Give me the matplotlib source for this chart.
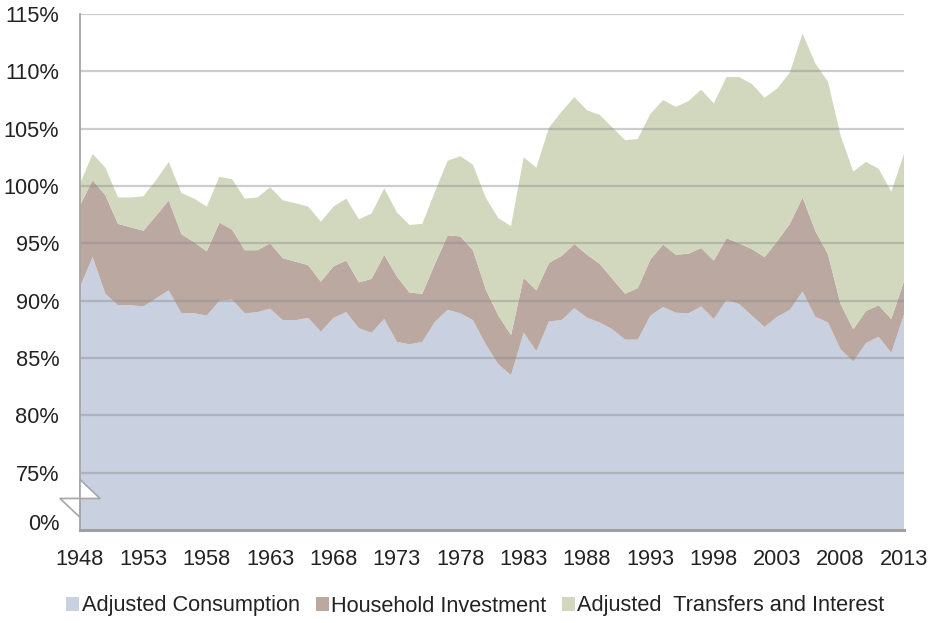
import matplotlib
matplotlib.use("Agg")
import matplotlib.pyplot as plt
from matplotlib.patches import Patch, Polygon
import matplotlib.transforms as mtransforms
import numpy as np

plt.rcParams['font.family'] = ['Liberation Sans', 'DejaVu Sans']

years = list(range(1948, 2014))
consumption = [91.2, 93.8, 90.6, 89.6, 89.6, 89.5, 90.2, 90.9, 88.9, 88.9,
               88.7, 90.0, 90.1, 88.9, 89.0, 89.3, 88.3, 88.3, 88.5, 87.3,
               88.5, 89.0, 87.6, 87.2, 88.4, 86.4, 86.2, 86.4, 88.15, 89.2,
               88.9, 88.3, 86.2, 84.45, 83.5, 87.2, 85.6, 88.2, 88.3, 89.35,
               88.5, 88.1, 87.5, 86.6, 86.6, 88.7, 89.45, 88.95, 88.9, 89.5,
               88.4, 90.05, 89.7, 88.7, 87.7, 88.6, 89.2, 90.8, 88.6, 88.1,
               85.75, 84.7, 86.3, 86.85, 85.45, 88.8]
investment = [7.1, 6.7, 8.6, 7.1, 6.8, 6.6, 7.2, 7.85, 6.9, 6.2,
              5.6, 6.8, 6.1, 5.5, 5.4, 5.7, 5.4, 5.1, 4.6, 4.35,
              4.5, 4.5, 4.0, 4.7, 5.6, 5.7, 4.5, 4.2, 5.05, 6.5,
              6.7, 6.1, 4.8, 4.25, 3.5, 4.8, 5.3, 5.1, 5.6, 5.6,
              5.5, 5.1, 4.4, 4.0, 4.5, 4.9, 5.45, 5.05, 5.2, 5.1,
              5.1, 5.4, 5.3, 5.8, 6.1, 6.6, 7.5, 8.2, 7.5, 5.95,
              3.95, 2.8, 2.8, 2.75, 2.95, 2.9]
transfers = [1.9, 2.3, 2.4, 2.3, 2.6, 3.0, 3.1, 3.35, 3.6, 3.8,
             3.9, 4.0, 4.4, 4.5, 4.6, 4.9, 5.05, 5.1, 5.1, 5.25,
             5.2, 5.4, 5.5, 5.7, 5.8, 5.6, 5.9, 6.1, 6.3, 6.5,
             7.0, 7.45, 8.0, 8.5, 9.5, 10.5, 10.7, 11.8, 12.6, 12.8,
             12.6, 13.0, 13.2, 13.4, 13.0, 12.7, 12.6, 12.9, 13.3, 13.8,
             13.7, 14.05, 14.5, 14.4, 13.9, 13.3, 13.2, 14.3, 14.6, 15.05,
             14.7, 13.75, 13.0, 11.9, 11.1, 11.1]

series_names = ["Adjusted Consumption", "Household Investment",
                "Adjusted  Transfers and Interest"]
colors = ["#C9D0E0", "#BBA8A0", "#D2D8BE"]

ytick_vals = [75, 80, 85, 90, 95, 100, 105, 110, 115]
ytick_labels = ["75%", "80%", "85%", "90%", "95%", "100%", "105%", "110%", "115%"]
xtick_years = list(range(1948, 2014, 5))

fig = plt.figure(figsize=(9.34, 6.23), dpi=100)
ax = fig.add_axes([80/934, 1-530/623, 824/934, 516/623])

ax.stackplot(years, consumption, investment, transfers, colors=colors,
             linewidth=0, zorder=1)

ax.set_xlim(1948, 2013)
ax.set_ylim(70, 115)

for v in ytick_vals:
    ax.axhline(v, color="#8A8A8A", alpha=0.42, linewidth=1.6, zorder=3)

ax.set_yticks([70.72] + ytick_vals)
ax.set_yticklabels(["0%"] + ytick_labels)
ax.set_xticks(xtick_years)
ax.set_xticklabels([str(y) for y in xtick_years])
ax.tick_params(axis='both', length=0, labelsize=15.7, colors="#222222")
ax.tick_params(axis='y', pad=15)
ax.tick_params(axis='x', pad=14)

for s in ["top", "right"]:
    ax.spines[s].set_visible(False)
ax.spines["left"].set_color("#A6A6A6")
ax.spines["left"].set_linewidth(1.3)
ax.spines["bottom"].set_color("#A0A0A0")
ax.spines["bottom"].set_linewidth(2.2)
ax.spines["left"].set_zorder(4)
ax.spines["bottom"].set_zorder(4)

# axis break symbol
trans = mtransforms.blended_transform_factory(ax.transAxes, ax.transData)
dx = 20/824
upper = Polygon([(0, 74.4), (dx, 72.75), (0, 72.75)], closed=True,
                facecolor="white", edgecolor="none", transform=trans,
                clip_on=False, zorder=5)
ax.add_patch(upper)
ax.plot([0, dx, -dx, 0], [74.4, 72.75, 72.75, 71.1], color="#A6A6A6",
        linewidth=1.2, transform=trans, clip_on=False, zorder=6)
ax.plot([0, 0], [74.4, 71.1], color="#A6A6A6", linewidth=1.2,
        transform=trans, clip_on=False, zorder=6)

handles = [Patch(facecolor=c, edgecolor="none") for c in colors]
fig.legend(handles, series_names, loc="center", ncol=3,
           bbox_to_anchor=(0.509, 1-606/623), frameon=False, fontsize=15.7,
           handlelength=0.6, handleheight=0.6, handletextpad=0.1,
           columnspacing=0.73, labelcolor="#222222")

fig.savefig("out.png", dpi=100)
